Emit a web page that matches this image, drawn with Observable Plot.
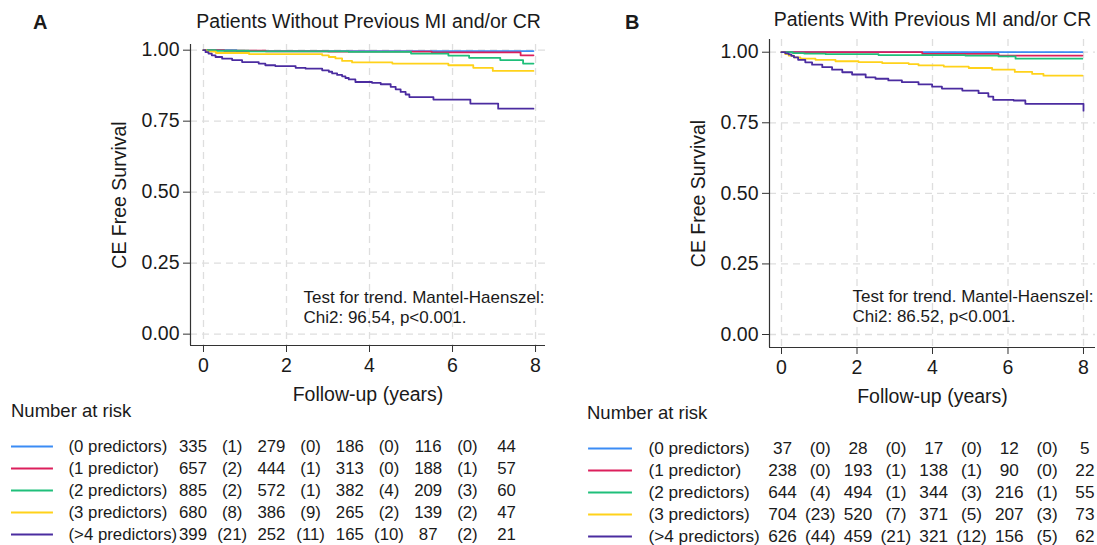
<!DOCTYPE html>
<html><head><meta charset="utf-8">
<script src="https://cdn.jsdelivr.net/npm/d3@7"></script>
<script src="https://cdn.jsdelivr.net/npm/@observablehq/plot@0.6"></script>
<style>
body{margin:0;background:#fff;}
#fig{position:relative;width:1097px;height:545px;overflow:hidden;background:#fff;font-family:"Liberation Sans",Arial,sans-serif;color:#1a1a1a;}
.abs{position:absolute;white-space:nowrap;line-height:1;}
#fig svg{position:absolute;overflow:visible;}
</style></head><body><div id="fig"></div>
<script>
// ---------- data ----------
const groups = ["(0 predictors)", "(1 predictor)", "(2 predictors)", "(3 predictors)", "(>4 predictors)"];
const groupColors = ["#3b8cf5", "#dc1f5c", "#1fbf7a", "#ffd21a", "#4b2ca0"];
const xTicks = [0, 2, 4, 6, 8];
const yTicks = [0, 0.25, 0.5, 0.75, 1];
const panelLetters = ["A", "B"];
const panelTitles = ["Patients Without Previous MI and/or CR", "Patients With Previous MI and/or CR"];
const yLabel = "CE Free Survival";
const xLabel = "Follow-up (years)";
const riskTitle = "Number at risk";
const notesA = "Test for trend. Mantel-Haenszel:\nChi2: 96.54, p<0.001.";
const notesB = "Test for trend. Mantel-Haenszel:\nChi2: 86.52, p<0.001.";

// Panel A survival steps [years, survival]
const survA0 = [[0,1],[0.8,0.997],[7.95,0.997]];
const survA1 = [[0,1],[0.5,0.998],[1.5,0.996],[3.0,0.995],[5.5,0.992],[7.64,0.982],[7.95,0.982]];
const survA2 = [[0,1],[0.3,0.998],[1.1,0.996],[3.5,0.994],[5.0,0.988],[5.9,0.981],[6.4,0.973],[7.15,0.965],[7.7,0.953],[7.95,0.953]];
const survA3 = [[0,1],[0.07,0.995],[0.3,0.99],[1.1,0.986],[2.86,0.982],[3.02,0.976],[3.18,0.971],[3.34,0.962],[3.58,0.957],[4.55,0.953],[5.9,0.947],[6.5,0.938],[6.97,0.927],[7.95,0.927]];
const survA4 = [[0,1],[0.05,0.993],[0.12,0.988],[0.2,0.982],[0.29,0.976],[0.45,0.97],[0.69,0.965],[0.93,0.958],[1.33,0.953],[1.49,0.947],[1.73,0.944],[2.22,0.938],[2.46,0.935],[2.86,0.929],[3.02,0.924],[3.1,0.918],[3.22,0.913],[3.34,0.908],[3.42,0.902],[3.5,0.897],[3.66,0.888],[4.06,0.885],[4.27,0.88],[4.51,0.871],[4.63,0.862],[4.75,0.853],[4.87,0.844],[4.96,0.835],[5.54,0.826],[6.43,0.812],[7.1,0.794],[7.95,0.794]];

// Panel B survival steps [years, survival]
const survB0 = [[0,1],[7.97,1]];
const survB1 = [[0,1],[3.73,0.994],[5.75,0.988],[7.97,0.988]];
const survB2 = [[0,1],[0.3,0.997],[0.6,0.995],[1.17,0.993],[2.57,0.99],[4.87,0.988],[5.75,0.985],[6.2,0.977],[7.97,0.977]];
const survB3 = [[0,1],[0.1,0.993],[0.19,0.988],[0.33,0.982],[0.5,0.977],[0.9,0.973],[1.43,0.968],[2.04,0.965],[2.67,0.961],[3.37,0.958],[3.63,0.953],[4.3,0.949],[4.96,0.944],[5.58,0.938],[6.18,0.93],[6.64,0.923],[6.94,0.917],[7.97,0.917]];
const survB4 = [[0,1],[0.1,0.996],[0.19,0.992],[0.26,0.987],[0.33,0.982],[0.44,0.973],[0.63,0.964],[0.81,0.956],[1.08,0.947],[1.34,0.938],[1.61,0.929],[1.87,0.921],[2.23,0.911],[2.49,0.906],[2.83,0.9],[3.19,0.894],[3.63,0.886],[3.99,0.878],[4.25,0.871],[4.79,0.864],[5.22,0.855],[5.48,0.843],[5.61,0.831],[6.15,0.829],[6.46,0.817],[8.0,0.793]];

// Number at risk (counts at 0,2,4,6,8 years) and events (in parentheses) per interval
const riskA_n = [[335,279,186,116,44],[657,444,313,188,57],[885,572,382,209,60],[680,386,265,139,47],[399,252,165,87,21]];
const riskA_e = [[1,0,0,0],[2,1,0,1],[2,1,4,3],[8,9,2,2],[21,11,10,2]];
const riskB_n = [[37,28,17,12,5],[238,193,138,90,22],[644,494,344,216,55],[704,520,371,207,73],[626,459,321,156,62]];
const riskB_e = [[0,0,0,0],[0,1,1,0],[4,1,3,1],[23,7,5,3],[44,21,12,5]];

// ---------- drawing ----------
const fig = document.getElementById("fig");
const FONT = '"Liberation Sans", Arial, sans-serif';
const baseStyle = {fontFamily: FONT, fontSize: "19.5px", color: "#1a1a1a", background: "transparent", overflow: "visible"};
const tableStyle = {...baseStyle, fontSize: "17px"};

function addText(txt, left, cy, size, opts = {}) {
  const d = document.createElement("div");
  d.className = "abs";
  d.textContent = txt;
  d.style.fontSize = size + "px";
  d.style.top = (cy - size / 2) + "px";
  d.style.left = left + "px";
  if (opts.center) d.style.transform = "translateX(-50%)";
  if (opts.bold) d.style.fontWeight = "bold";
  fig.appendChild(d);
}

function place(svg, left, top) {
  svg.style.left = left + "px";
  svg.style.top = top + "px";
  fig.appendChild(svg);
}

function survPlot(series, cfg) {
  const data = series.flatMap((s, gi) => s.map(([t, v]) => ({t, v, g: groups[gi]})));
  return Plot.plot({
    width: cfg.width, height: cfg.height,
    marginLeft: cfg.ml, marginRight: cfg.mr, marginTop: cfg.mt, marginBottom: cfg.mb,
    style: baseStyle,
    x: {domain: cfg.xd},
    y: {domain: cfg.yd},
    color: {domain: groups, range: groupColors},
    marks: [
      Plot.gridX(xTicks, {stroke: "#dedede", strokeOpacity: 1, strokeDasharray: "7,5", strokeWidth: 1.3}),
      Plot.gridY(yTicks, {stroke: "#dedede", strokeOpacity: 1, strokeDasharray: "7,5", strokeWidth: 1.3}),
      Plot.ruleX([cfg.xd[0]], {stroke: "#333", strokeWidth: 1.2}),
      Plot.ruleY([cfg.yd[0]], {stroke: "#333", strokeWidth: 1.2}),
      Plot.axisX(xTicks, {anchor: "bottom", tickSize: 7, tickPadding: 6, label: null, stroke: "#333", fontSize: 19.5}),
      Plot.axisY(yTicks, {anchor: "left", tickSize: 7, tickPadding: 4, label: null, tickFormat: d3.format(".2f"), stroke: "#333", fontSize: 19.5}),
      Plot.text([yLabel], {text: d => d, frameAnchor: "left", textAnchor: "middle", dx: -71, rotate: -90, fontSize: 19.5}),
      Plot.text([xLabel], {text: d => d, frameAnchor: "bottom", textAnchor: "middle", dy: 55, fontSize: 19.5}),
      Plot.text([cfg.note], {text: d => d, frameAnchor: "bottom-left", dx: cfg.noteDx, dy: cfg.noteDy, textAnchor: "start", lineAnchor: "middle", lineHeight: 1.18, fontSize: 17}),
      Plot.line(data, {x: "t", y: "v", z: "g", stroke: "g", curve: "step-after", strokeWidth: 1.8})
    ]
  });
}

function riskPlot(n, e, cfg) {
  const cells = [];
  groups.forEach((g, gi) => {
    n[gi].forEach((v, j) => cells.push({col: 2 * j, row: g, label: String(v)}));
    e[gi].forEach((v, j) => cells.push({col: 2 * j + 1, row: g, label: "(" + v + ")"}));
  });
  return Plot.plot({
    width: cfg.width, height: cfg.height,
    marginLeft: cfg.ml, marginRight: cfg.mr, marginTop: cfg.mt, marginBottom: cfg.mb,
    style: tableStyle,
    x: {domain: [0, 8], axis: null},
    y: {type: "point", domain: groups, padding: 0, axis: null},
    color: {domain: groups, range: groupColors},
    marks: [
      Plot.ruleY(groups, {y: d => d, x1: () => cfg.sw[0], x2: () => cfg.sw[1], stroke: d => d, strokeWidth: 1.8}),
      Plot.text(groups, {y: d => d, text: d => d, frameAnchor: "left", dx: cfg.labelDx, textAnchor: "start", fontSize: cfg.fs}),
      Plot.text(cells, {x: "col", y: "row", text: "label", fontSize: cfg.fs})
    ]
  });
}

// Panel A
place(survPlot([survA0, survA1, survA2, survA3, survA4], {
  width: 560, height: 390, ml: 190, mr: 15, mt: 44, mb: 45,
  xd: [-0.313, 8.24], yd: [-0.04, 1.02], note: notesA, noteDx: 113, noteDy: -39
}), 0, 0);
// Panel B
place(survPlot([survB0, survB1, survB2, survB3, survB4], {
  width: 527, height: 390, ml: 199, mr: 2, mt: 39, mb: 43,
  xd: [-0.318, 8.318], yd: [-0.046, 1.045], note: notesB, noteDx: 83, noteDy: -42
}), 570, 0);

place(riskPlot(riskA_n, riskA_e, {width: 560, height: 145, ml: 192.5, mr: 53.9, mt: 45, mb: 9.5, labelDx: -124.5, sw: [-4.63, -3.56], fs: 16.8}), 0, 400);
place(riskPlot(riskB_n, riskB_e, {width: 527, height: 145, ml: 212, mr: 12.6, mt: 47, mb: 8, labelDx: -134, sw: [-5.13, -3.97], fs: 17.2}), 570, 400);

addText(panelLetters[0], 33, 22, 20, {bold: true});
addText(panelLetters[1], 625, 22, 20, {bold: true});
addText(panelTitles[0], 368.5, 22, 19.5, {center: true});
addText(panelTitles[1], 932.5, 20, 19.5, {center: true});
addText(riskTitle, 11, 411, 18.5);
addText(riskTitle, 587, 413, 18.5);
</script>
</body></html>
